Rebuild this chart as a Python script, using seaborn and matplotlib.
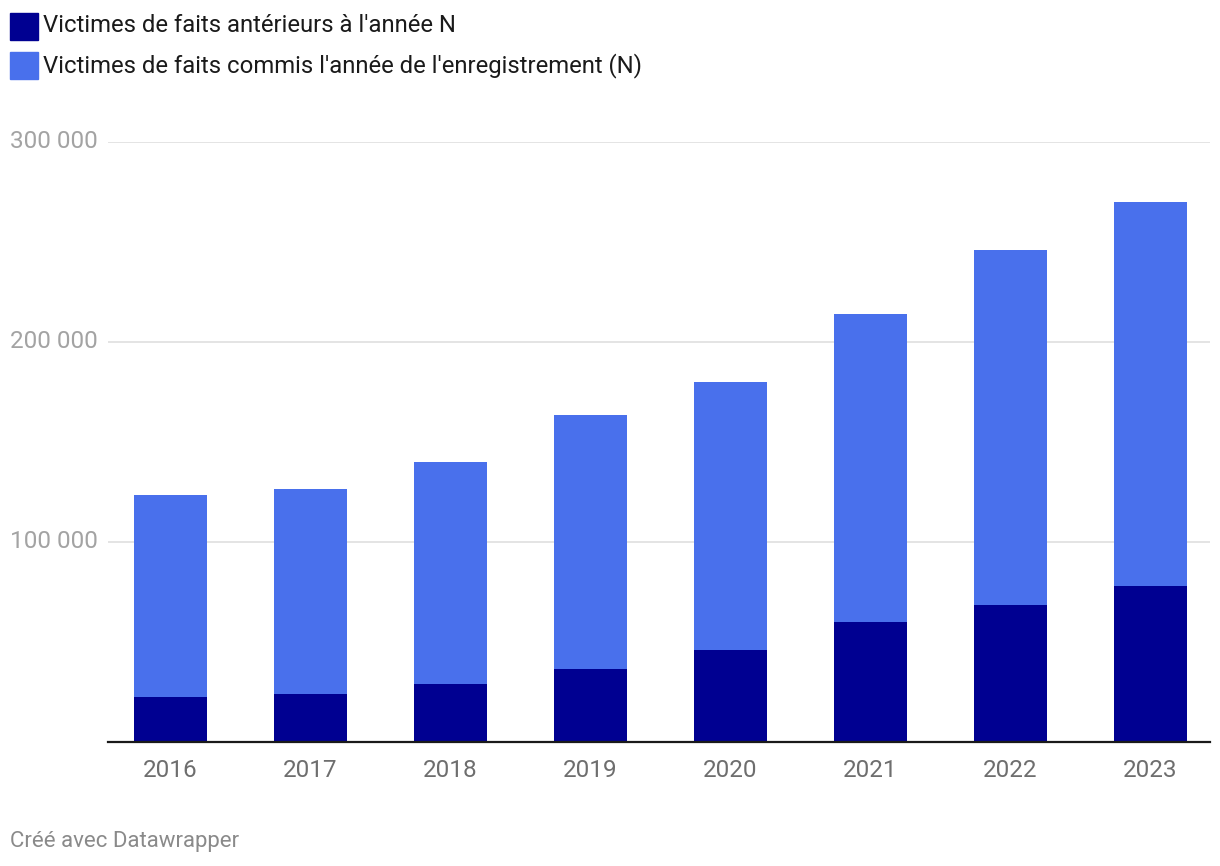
import numpy as np
import matplotlib.pyplot as plt
import matplotlib.transforms as mtransforms
from matplotlib.patches import Rectangle
import seaborn as sns
import pandas as pd

# values
years = ["2016", "2017", "2018", "2019", "2020", "2021", "2022", "2023"]
victimes_anterieures = [22500, 24000, 29000, 36500, 46000, 60000, 68500, 78000]
victimes_totales = [123500, 126500, 140000, 163500, 180000, 214000, 246000, 270000]
y_ticks = [100000, 200000, 300000]
y_tick_labels = ["100 000", "200 000", "300 000"]
legend_labels = ["Victimes de faits antérieurs à l'année N",
                 "Victimes de faits commis l'année de l'enregistrement (N)"]

dark = "#000091"
light = "#4970ec"

df = pd.DataFrame({"annee": years,
                   "anterieures": victimes_anterieures,
                   "total": victimes_totales})

sns.set_theme(style="white")
plt.rcParams["font.family"] = ["Roboto", "DejaVu Sans"]

W, H = 1220, 866
fig = plt.figure(figsize=(W / 100, H / 100), dpi=100)
ax = fig.add_axes([108 / W, (H - 742) / H, (1210 - 108) / W, 600 / H])

sns.barplot(data=df, x="annee", y="total", color=light, width=0.52,
            saturation=1, linewidth=0, edgecolor="none", ax=ax, zorder=2)
sns.barplot(data=df, x="annee", y="anterieures", color=dark, width=0.52,
            saturation=1, linewidth=0, edgecolor="none", ax=ax, zorder=3)

ax.set_xlim(-0.446, 7.425)
ax.set_ylim(0, 300000)
ax.set_xlabel("")
ax.set_ylabel("")
for s in ["top", "right", "left"]:
    ax.spines[s].set_visible(False)
ax.spines["bottom"].set_color("#1a1a1a")
ax.spines["bottom"].set_linewidth(1.6)
ax.spines["bottom"].set_zorder(5)

ax.set_yticks(y_ticks)
ax.set_yticklabels([])
ax.tick_params(axis="y", length=0)
ax.yaxis.grid(True, color="#e4e4e4", linewidth=1.4, zorder=0)
ax.set_axisbelow(True)
ax.tick_params(axis="x", length=0, pad=12, labelsize=17.5, labelcolor="#6e6e6e")

tr = mtransforms.blended_transform_factory(fig.transFigure, ax.transData)
for v, lab in zip(y_ticks, y_tick_labels):
    ax.text(10 / W, v, lab, transform=tr, ha="left", va="center",
            fontsize=17.5, color="#a3a3a3", clip_on=False)

# legend
for i, (lab, col) in enumerate(zip(legend_labels, [dark, light])):
    yc = 26 + 39.5 * i
    fig.patches.append(Rectangle((10 / W, (H - yc - 13.5) / H), 28 / W, 27 / H,
                                 transform=fig.transFigure, color=col))
    fig.text(43 / W, (H - yc) / H, lab, ha="left", va="center",
             fontsize=17.2, color="#1a1a1a")

fig.text(10 / W, (H - 842) / H, "Créé avec Datawrapper", ha="left",
         va="center", fontsize=16, color="#8a8a8a")

fig.savefig("out.png", dpi=100, facecolor="white")
